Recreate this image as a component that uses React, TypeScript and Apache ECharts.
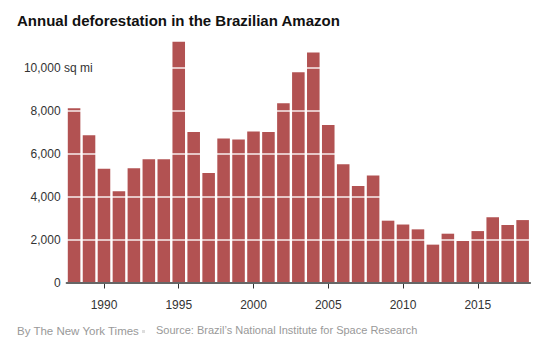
import React, { useEffect, useRef } from "react";
import * as echarts from "echarts";

const years = [
  "1988", "1989", "1990", "1991", "1992", "1993", "1994", "1995", "1996", "1997",
  "1998", "1999", "2000", "2001", "2002", "2003", "2004", "2005", "2006", "2007",
  "2008", "2009", "2010", "2011", "2012", "2013", "2014", "2015", "2016", "2017", "2018",
];
const deforestationSqMi = [
  8127, 6861, 5301, 4259, 5323, 5751, 5751, 11220, 7012, 5107,
  6712, 6664, 7037, 7013, 8359, 9805, 10723, 7341, 5516, 4498,
  4985, 2882, 2703, 2478, 1765, 2275, 1935, 2397, 3047, 2682, 2910,
];
const yTicks = [0, 2000, 4000, 6000, 8000, 10000];
const labelYears = ["1990", "1995", "2000", "2005", "2010", "2015"];

const titleText = "Annual deforestation in the Brazilian Amazon";
const creditText = "By The New York Times";
const sourceText = "Source: Brazil\u2019s National Institute for Space Research";

const FONT = "'Liberation Sans', Arial, Helvetica, sans-serif";

export default function App() {
  const ref = useRef<HTMLDivElement>(null);
  useEffect(() => {
    if (!ref.current) return;
    const chart = echarts.init(ref.current, null, { renderer: "svg" });
    const fmtNum = (v: number) => v.toLocaleString("en-US");
    chart.setOption({
      animation: false,
      backgroundColor: "#ffffff",
      textStyle: { fontFamily: FONT },
      grid: { left: 66.6, right: 19.9, top: 25.1, bottom: 65.5, containLabel: false },
      xAxis: [
        {
          type: "category",
          data: years,
          axisLine: { show: true, lineStyle: { color: "#666666", width: 2 } },
          axisTick: { show: false },
          axisLabel: { show: false },
          splitLine: { show: false },
          z: 4,
        },
        {
          type: "category",
          data: years,
          position: "bottom",
          offset: 4.5,
          axisLine: { show: false },
          axisTick: {
            show: true,
            alignWithLabel: true,
            length: 6,
            interval: (i: number, v: string) => labelYears.includes(v),
            lineStyle: { color: "#333333", width: 1 },
          },
          axisLabel: {
            show: true,
            interval: (i: number, v: string) => labelYears.includes(v),
            margin: 12,
            fontSize: 12,
            color: "#333333",
            fontFamily: FONT,
          },
        },
      ],
      yAxis: [
        {
          type: "value",
          min: 0,
          max: 12000,
          interval: 2000,
          z: 3,
          axisLine: { show: false },
          axisTick: { show: false },
          axisLabel: {
            margin: 6,
            fontSize: 12,
            color: "#333333",
            fontFamily: FONT,
            formatter: (v: number) => (yTicks.includes(v) ? fmtNum(v) : ""),
          },
          splitLine: {
            show: true,
            lineStyle: { color: "rgba(255,255,255,0.9)", width: 1.5 },
          },
        },
        {
          type: "value",
          min: 0,
          max: 12000,
          interval: 2000,
          position: "left",
          z: 3,
          axisLine: { show: false },
          axisTick: { show: false },
          splitLine: { show: false },
          axisLabel: {
            inside: true,
            margin: -2.5,
            fontSize: 12,
            color: "#333333",
            fontFamily: FONT,
            formatter: (v: number) => (v === 10000 ? "sq mi" : ""),
          },
        },
      ],
      series: [
        {
          type: "bar",
          data: deforestationSqMi,
          xAxisIndex: 0,
          yAxisIndex: 0,
          barCategoryGap: "16%",
          itemStyle: { color: "#b25252" },
        },
      ],
      graphic: [
        {
          type: "text",
          left: 17,
          top: 13,
          z: 100,
          style: {
            text: titleText,
            font: `bold 15px ${FONT}`,
            fill: "#111111",
          },
        },
        {
          type: "text",
          left: 17,
          top: 324.5,
          z: 100,
          style: { text: creditText, font: `11.5px ${FONT}`, fill: "#999999" },
        },
        {
          type: "rect",
          left: 142,
          top: 330,
          z: 100,
          shape: { width: 3, height: 3 },
          style: { fill: "#dddddd" },
        },
        {
          type: "text",
          left: 156,
          top: 324.5,
          z: 100,
          style: { text: sourceText, font: `11px ${FONT}`, fill: "#999999" },
        },
      ],
    });
    return () => chart.dispose();
  }, []);
  return (
    <div
      ref={ref}
      style={{ position: "absolute", left: 0, top: 0, width: 550, height: 348 }}
    />
  );
}
